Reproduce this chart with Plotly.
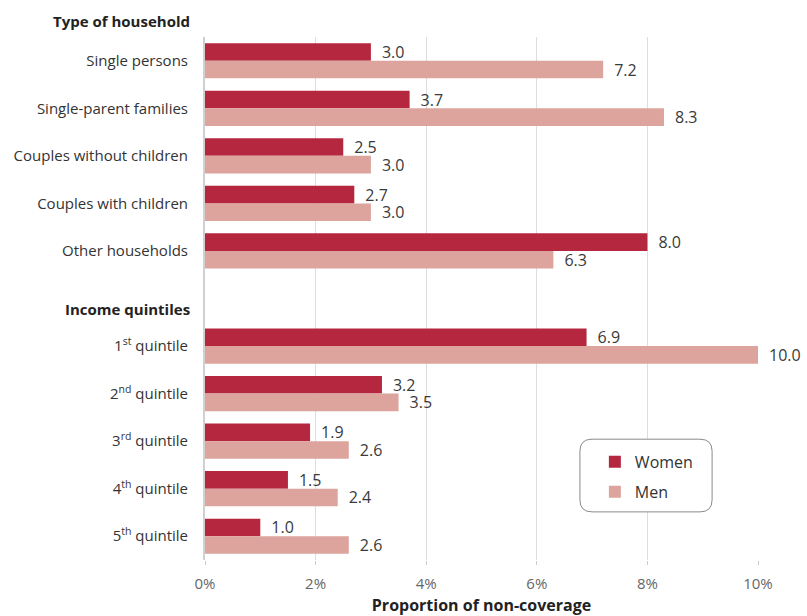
import plotly.graph_objects as go

# Non-coverage by type of household and income quintile (%)
household_types = ["Single persons", "Single-parent families", "Couples without children",
                   "Couples with children", "Other households"]
household_women = [3.0, 3.7, 2.5, 2.7, 8.0]
household_men = [7.2, 8.3, 3.0, 3.0, 6.3]

quintiles = ["1<sup>st</sup> quintile", "2<sup>nd</sup> quintile", "3<sup>rd</sup> quintile",
             "4<sup>th</sup> quintile", "5<sup>th</sup> quintile"]
quintile_women = [6.9, 3.2, 1.9, 1.5, 1.0]
quintile_men = [10.0, 3.5, 2.6, 2.4, 2.6]

group_titles = ["Type of household", "Income quintiles"]
x_ticks = [0, 2, 4, 6, 8, 10]
x_ticklabels = ["0%", "2%", "4%", "6%", "8%", "10%"]

WOMEN = "#B5273F"
MEN = "#DCA49C"
FONT = "Open Sans, Noto Sans, sans-serif"

# Row positions: households first, one blank row, then quintiles
hh_pos = list(range(len(household_types)))
q_start = len(household_types) + 1
q_pos = [q_start + i for i in range(len(quintiles))]
positions = hh_pos + q_pos
labels = household_types + quintiles
women = household_women + quintile_women
men = household_men + quintile_men
n_rows = len(positions) + 1  # includes the blank separator row

fig = go.Figure()
for name, vals, col in [("Women", women, WOMEN), ("Men", men, MEN)]:
    fig.add_trace(go.Bar(
        y=positions, x=vals, orientation="h", name=name, legendgroup=name,
        marker=dict(color=col, line=dict(width=0)),
        text=[f"\u2002{v:.1f}" for v in vals], textposition="outside",
        constraintext="none",
        textfont=dict(size=16, color="#3a3a3a", family=FONT),
        cliponaxis=False,
    ))

# Group headings above each block (paper coords so they may sit above the plot)
header_rows = [-1, q_start - 1]
header_shift = [-8, -10]
for title, row, ys in zip(group_titles, header_rows, header_shift):
    y_paper = (n_rows - 0.5 - row) / n_rows
    fig.add_annotation(
        text=f"<b>{title}</b>", xref="paper", x=0, xshift=-13, xanchor="right",
        yref="paper", y=y_paper, yshift=ys, yanchor="middle", showarrow=False,
        font=dict(size=15, color="#222", family=FONT),
    )

# Rounded frame around the legend
x0, x1, y0, y1 = 0.678, 0.917, 0.092, 0.231
rx, ry = 0.022, 0.023
path = (f"M {x0+rx},{y0} L {x1-rx},{y0} Q {x1},{y0} {x1},{y0+ry} "
        f"L {x1},{y1-ry} Q {x1},{y1} {x1-rx},{y1} L {x0+rx},{y1} "
        f"Q {x0},{y1} {x0},{y1-ry} L {x0},{y0+ry} Q {x0},{y0} {x0+rx},{y0} Z")
fig.add_shape(type="path", path=path, xref="paper", yref="paper",
              line=dict(color="#8a8a8a", width=1), fillcolor="white", layer="above")

fig.update_layout(
    width=807, height=616,
    margin=dict(l=205, r=49, t=37, b=56),
    paper_bgcolor="white", plot_bgcolor="white",
    barmode="group", bargap=0.26, bargroupgap=0,
    font=dict(family=FONT, size=15, color="#333"),
    showlegend=True,
    legend=dict(x=0.705, y=0.220, xanchor="left", yanchor="top",
                bgcolor="rgba(0,0,0,0)", borderwidth=0,
                traceorder="grouped", tracegroupgap=6,
                font=dict(size=16, color="#333", family=FONT),
                itemwidth=30),
    xaxis=dict(range=[0, 10], tickvals=x_ticks, ticktext=x_ticklabels,
               showgrid=True, gridcolor="#dddddd", gridwidth=1,
               zeroline=False, showline=False, automargin=False,
               ticks="outside", ticklen=4, tickcolor="#cccccc",
               ticklabelstandoff=6,
               tickfont=dict(size=15, color="#666", family=FONT),
               title=dict(text="<b>Proportion of non-coverage</b>", standoff=8,
                          font=dict(size=16, color="#222", family=FONT))),
    yaxis=dict(range=[n_rows - 0.5, -0.5], tickvals=positions, ticktext=labels,
               showgrid=False, zeroline=False, automargin=False,
               showline=True, linecolor="#d0d0d0", linewidth=2,
               ticks="", ticklabelstandoff=12,
               tickfont=dict(size=15, color="#333", family=FONT)),
)

fig.write_html("out.html")
